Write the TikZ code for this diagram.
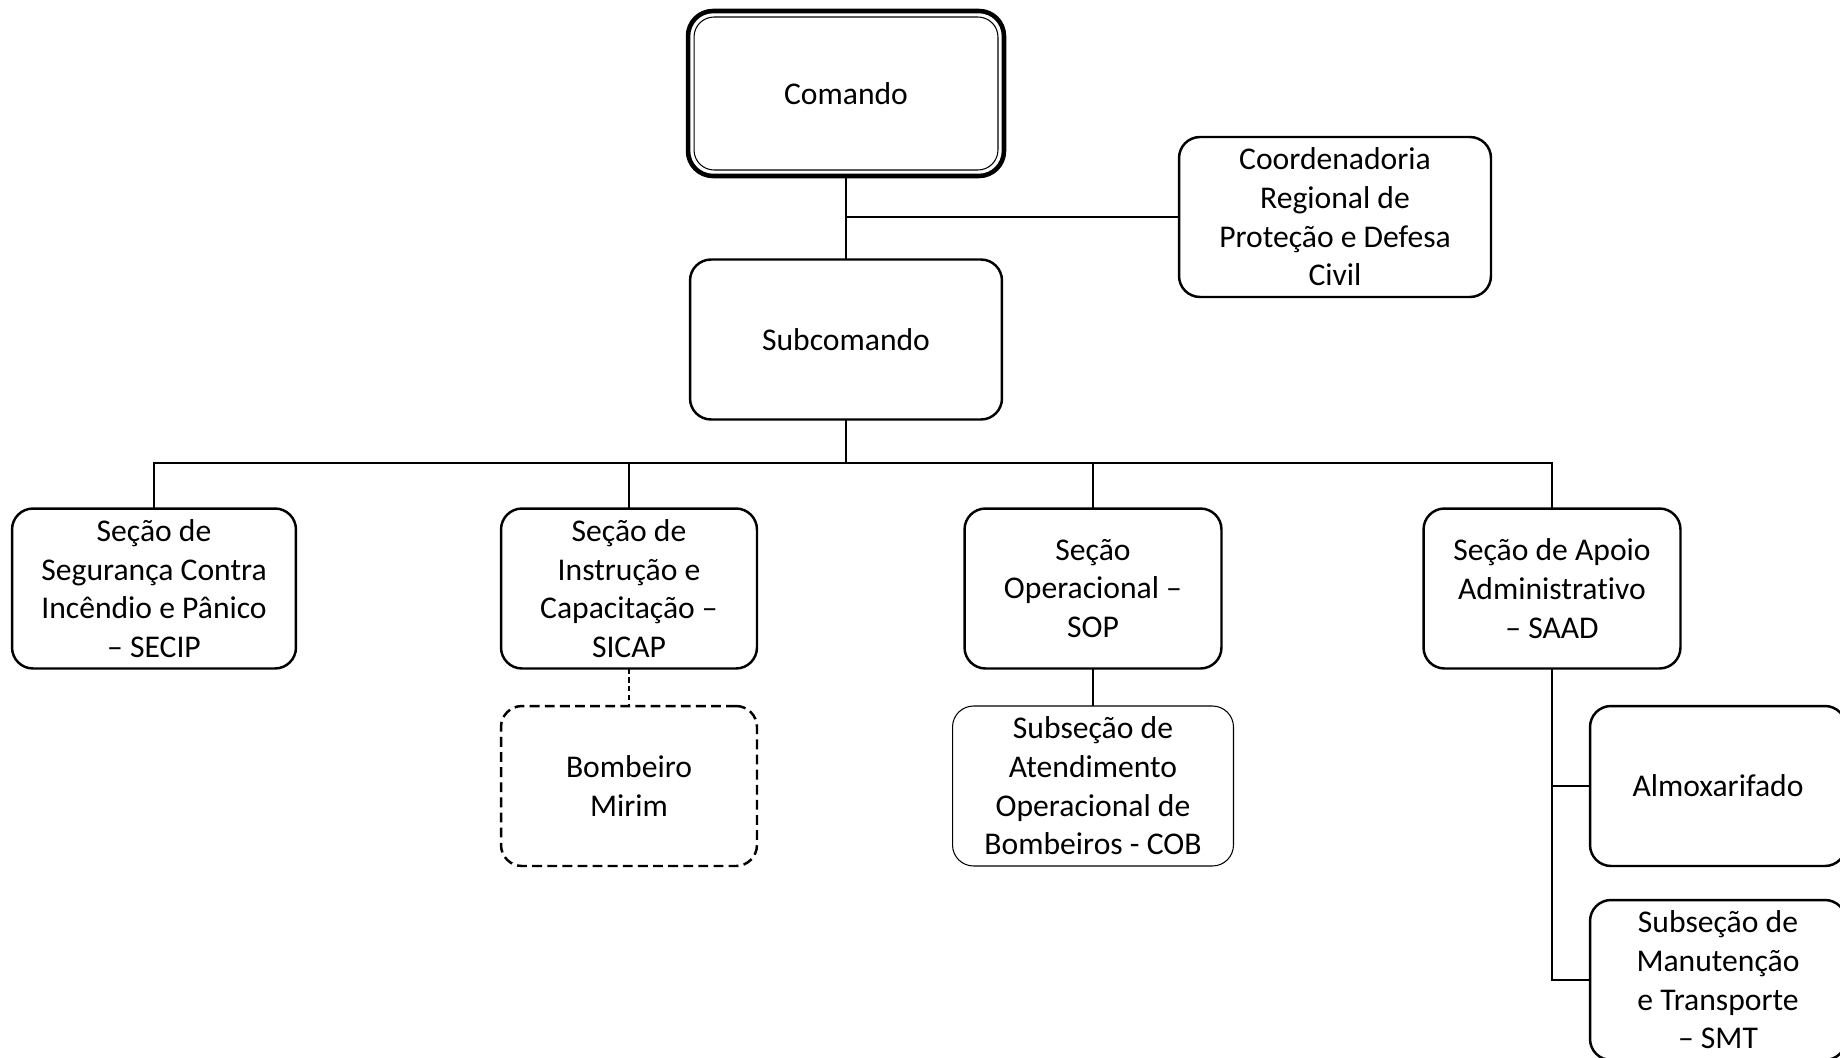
\documentclass[tikz,border=0pt]{standalone}
\usepackage{fontspec}
\setmainfont{Carlito}[Ligatures={NoCommon,TeX}]
\usepackage{tikz}
\usetikzlibrary{positioning}

\begin{document}
\begin{tikzpicture}[x=0.02cm, y=-0.02cm,
    orgbox/.style={draw, line width=1.4pt, rounded corners=0.42cm, align=center,
        minimum width=5.12cm, minimum height=3.2cm, outer sep=0pt,
        font=\fontsize{18}{22}\selectfont},
    thinbox/.style={orgbox, line width=0.6pt},
    dashbox/.style={orgbox, dash pattern=on 5.6pt off 3pt},
    link/.style={line width=0.6pt}]
    \useasboundingbox (0,0) rectangle (1840,1058);

    % Topo
    \node[orgbox, line width=2.6pt, minimum width=6.32cm, minimum height=3.3cm, rounded corners=0.5cm] (comando) at (846,93.5) {Comando};
    \draw[line width=0.6pt, rounded corners=0.4cm] ([shift={(6,6)}]comando.north west) rectangle ([shift={(-6,-6)}]comando.south east);
    \node[orgbox, minimum width=6.24cm] (coord) at (1335,217) {Coordenadoria\\Regional de\\Proteção e Defesa\\Civil};
    \node[orgbox, minimum width=6.24cm] (subcomando) at (846,339.5) {Subcomando};

    % Seções
    \node[orgbox, minimum width=5.68cm] (secip) at (154,588.5) {Seção de\\Segurança Contra\\Incêndio e Pânico\\– SECIP};
    \node[orgbox] (sicap) at (629,588.5) {Seção de\\Instrução e\\Capacitação –\\SICAP};
    \node[orgbox, minimum width=5.14cm] (sop) at (1093,588.5) {Seção\\Operacional –\\SOP};
    \node[orgbox, minimum width=5.14cm] (saad) at (1552,588.5) {Seção de Apoio\\Administrativo\\– SAAD};

    % Subseções
    \node[dashbox] (mirim) at (629,786) {Bombeiro\\Mirim};
    \node[thinbox, minimum width=5.62cm] (cob) at (1093,786) {Subseção de\\Atendimento\\Operacional de\\Bombeiros - COB};
    \node[orgbox] (almox) at (1718,786) {Almoxarifado};
    \node[orgbox] (smt) at (1718,980) {Subseção de\\Manutenção\\e Transporte\\– SMT};

    % Ligações
    \draw[link] (comando) -- (subcomando);
    \draw[link] (coord.west) -- (coord.west -| comando.south);
    \coordinate (bus) at (846,463);
    \draw[link] (subcomando.south) -- (bus);
    \draw[link] (secip.north) -- (secip.north |- bus) -- (saad.north |- bus) -- (saad.north);
    \foreach \n in {sicap, sop}
        \draw[link] (\n.north) -- (\n.north |- bus);
    \draw[link, dash pattern=on 3pt off 2pt] (sicap) -- (mirim);
    \draw[link] (sop) -- (cob);
    \draw[link] (saad.south) |- (smt.west);
    \draw[link] (almox.west) -- (almox.west -| saad.south);
\end{tikzpicture}
\end{document}
